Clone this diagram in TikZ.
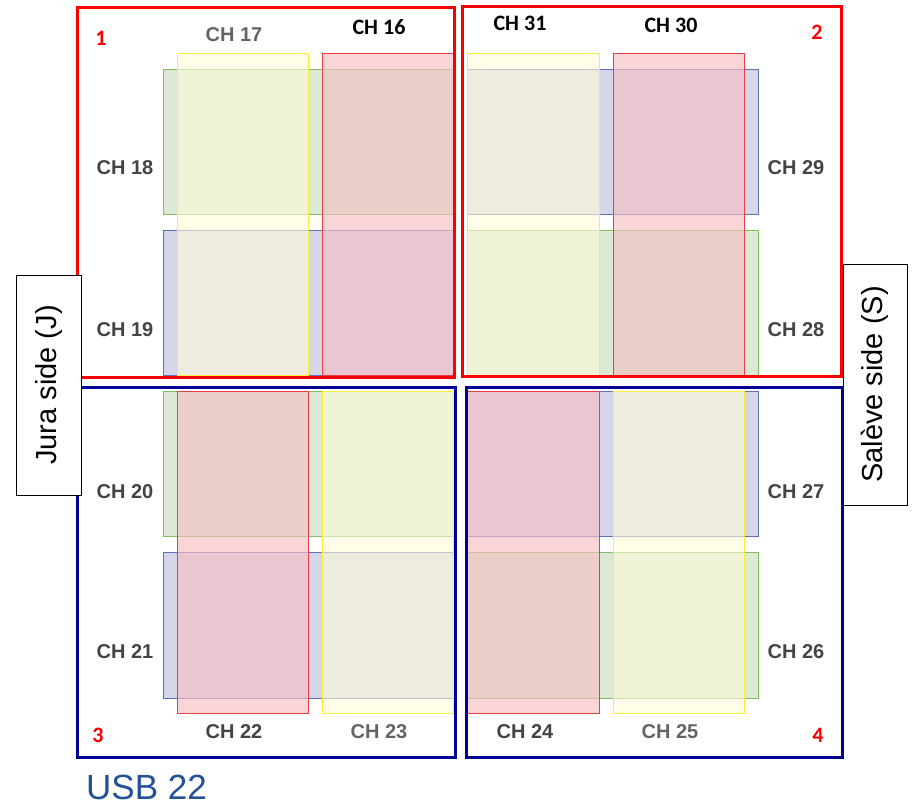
\documentclass[tikz,border=0pt]{standalone}
\usepackage{fontspec}
\setmainfont{Liberation Sans}
\newfontfamily\calib{Carlito}
\definecolor{gfill}{RGB}{220,233,212}
\definecolor{gline}{RGB}{128,190,100}
\definecolor{bfill}{RGB}{213,214,232}
\definecolor{bline}{RGB}{95,112,185}
\definecolor{rfill}{RGB}{246,192,196}
\definecolor{rline}{RGB}{232,62,72}
\definecolor{yfill}{RGB}{255,250,218}
\definecolor{yline}{RGB}{248,238,60}
\definecolor{framered}{RGB}{250,0,0}
\definecolor{frameblue}{RGB}{0,0,150}
\definecolor{chgrey}{RGB}{68,68,68}
\definecolor{chlight}{RGB}{100,100,100}
\definecolor{usbblue}{RGB}{36,80,152}
\tikzset{
  greenband/.style={draw=gline, fill=gfill, line width=1pt},
  blueband/.style={draw=bline, fill=bfill, line width=1pt},
  redband/.style={draw=rline, fill=rfill, fill opacity=0.65, line width=1pt},
  yellowband/.style={draw=yline, fill=yfill, fill opacity=0.6, line width=1pt},
  redframe/.style={draw=framered, line width=3pt},
  blueframe/.style={draw=frameblue, line width=3pt},
  chlabel/.style={text=chgrey, font=\fontsize{20}{24}\selectfont\bfseries, inner sep=0pt},
  chlabelb/.style={text=black, font=\calib\fontsize{22}{26}\selectfont\bfseries, inner sep=0pt},
  quadnum/.style={text=framered, font=\calib\fontsize{22}{26}\selectfont\bfseries, inner sep=0pt},
  sidebox/.style={draw=black, fill=white, line width=1pt, rotate=90, inner sep=0pt,
                  font=\fontsize{29}{34}\selectfont},
}
\begin{document}
\begin{tikzpicture}[x=1pt, y=-1pt]
\useasboundingbox[fill=white] (0,0) rectangle (912,806);

% ---- quadrant 1 ----
\draw[greenband] (163,69) rectangle (453,214);
\draw[blueband]  (163,230) rectangle (453,375);
\draw[yellowband] (177,53) rectangle (308,375);
\draw[redband]    (322,53) rectangle (453,375);

% ---- quadrant 2 ----
\draw[blueband]  (467,69) rectangle (758,214);
\draw[greenband] (467,230) rectangle (758,375);
\draw[yellowband] (467,53) rectangle (599,375);
\draw[redband]    (613,53) rectangle (744,375);

% ---- quadrant 3 ----
\draw[greenband] (163,391) rectangle (453,536);
\draw[blueband]  (163,552) rectangle (453,698);
\draw[redband]    (177,391) rectangle (308,713);
\draw[yellowband] (322,391) rectangle (453,713);

% ---- quadrant 4 ----
\draw[blueband]  (467,391) rectangle (758,536);
\draw[greenband] (467,552) rectangle (758,698);
\draw[redband]    (467,391) rectangle (599,713);
\draw[yellowband] (613,391) rectangle (744,713);

% ---- quadrant frames ----
\draw[redframe]  (77,7) rectangle (454,377);
\draw[redframe]  (462,6) rectangle (841,376);
\draw[blueframe] (77,387) rectangle (455,757);
\draw[blueframe] (466,387) rectangle (842,757);

% ---- channel labels ----
\node[chlabel, text=chlight] (ch17) at (234,35) {CH 17};
\node[chlabelb] (ch16) at (379,27) {CH 16};
\node[chlabel] (ch18) at (125,168) {CH 18};
\node[chlabel] (ch19) at (125,330) {CH 19};
\node[chlabelb] (ch31) at (520,23) {CH 31};
\node[chlabelb] (ch30) at (671,25) {CH 30};
\node[chlabel] (ch29) at (796,168) {CH 29};
\node[chlabel] (ch28) at (796,330) {CH 28};
\node[chlabel] (ch20) at (125,492) {CH 20};
\node[chlabel] (ch21) at (125,652) {CH 21};
\node[chlabel] (ch22) at (234,732) {CH 22};
\node[chlabel, text=chlight] (ch23) at (379,732) {CH 23};
\node[chlabel] (ch24) at (525,732) {CH 24};
\node[chlabel, text=chlight] (ch25) at (670,732) {CH 25};
\node[chlabel] (ch27) at (796,492) {CH 27};
\node[chlabel] (ch26) at (796,652) {CH 26};

% ---- quadrant numbers ----
\node[quadnum] (q1) at (101,38) {1};
\node[quadnum] (q2) at (817,32) {2};
\node[quadnum] (q3) at (98,735) {3};
\node[quadnum] (q4) at (818,735) {4};

% ---- side boxes ----
\node[sidebox, minimum width=220pt, minimum height=65pt] (jura) at (49,385) {Jura side (J)};
\node[sidebox, minimum width=241pt, minimum height=64pt] (saleve) at (875,384.5) {Salève side (S)};

% ---- caption ----
\node[anchor=base west, inner sep=0pt, text=usbblue, font=\fontsize{35}{40}\selectfont] (usb) at (86,799) {USB 22};
\end{tikzpicture}
\end{document}
